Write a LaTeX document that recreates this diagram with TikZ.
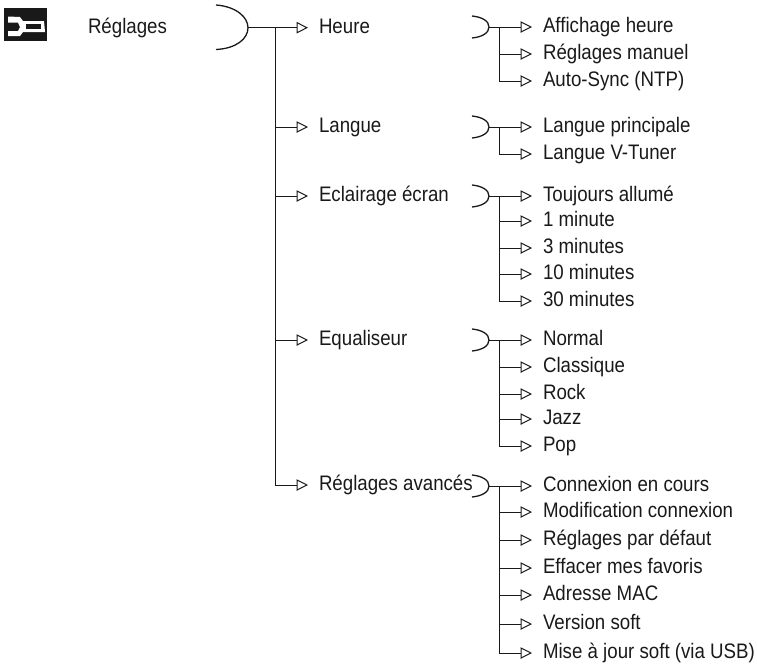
\documentclass[tikz,border=0pt]{standalone}
\usepackage{fontspec}
\setmainfont[FakeStretch=0.89]{Liberation Sans}
\usetikzlibrary{arrows.meta, positioning}
\definecolor{mydark}{RGB}{25,25,25}
\tikzset{
  entry/.style={anchor=west, inner ysep=0pt, inner xsep=11pt, outer sep=0pt, text height=15pt, text depth=4pt,
    font=\fontsize{21}{24}\selectfont, text=mydark},
  arrow/.style={-{Triangle[open, length=11.5pt, width=11.5pt]}, line width=1pt, color=mydark},
  bowl/.style={line width=1.3pt, color=mydark}
}
\begin{document}
\begin{tikzpicture}[x=1pt, y=-1pt]
  \useasboundingbox (0,0) rectangle (757,665);

  % Icon
  \fill[mydark] (4,8) rectangle (47,41);
  \fill[white] (8,16.5) -- (20,17) -- (23,21) -- (44,21) -- (45,32) -- (23,32) -- (20,36) -- (8,36) -- (8,31)
    -- (18,31) -- (20,27) -- (18,22.5) -- (8,22.5) -- cycle;
  \fill[mydark] (26,24) -- (41,24) -- (41,29) -- (26,29) -- cycle;

  % Title
  \node[entry, inner xsep=0pt] (reglages) at (88,27.5) {Réglages};

  % First level
  \node[entry] (heure) at (308,27.7) {Heure};
  \node[entry] (langue) at (308,127) {Langue};
  \node[entry] (eclairage) at (308,196) {Eclairage écran};
  \node[entry] (equaliseur) at (308,340) {Equaliseur};
  \node[entry] (avances) at (308,485) {Réglages avancés};

  % Main bowl
  \coordinate (bowlmain) at (248,27.7);
  \coordinate (trunk) at (275,27.7);
  \draw[bowl] (216,5) .. controls (236,6.5) and (248,17) .. (bowlmain) .. controls (248,39) and (236,48.5) .. (216,49.5);
  \draw[arrow] (bowlmain) -- (heure.west);
  \foreach \n in {langue, eclairage, equaliseur, avances}
    \draw[arrow] (trunk) |- (\n.west);

  % Second level
  \foreach \group/\ybowl/\items in {
    h/27/{Affichage heure/27, Réglages manuel/54, Auto-Sync (NTP)/81},
    l/127/{Langue principale/127, Langue V-Tuner/154},
    e/196/{Toujours allumé/196, 1 minute/221, 3 minutes/248, 10 minutes/274, 30 minutes/301},
    q/340/{Normal/340, Classique/367, Rock/394, Jazz/419, Pop/446},
    a/486/{Connexion en cours/486, Modification connexion/512, Réglages par défaut/540, Effacer mes favoris/568, Adresse MAC/595, Version soft/624, Mise à jour soft (via USB)/653}} {
    \coordinate (bowl\group) at (489,\ybowl);
    \coordinate (trunk\group) at (499.5,\ybowl);
    \draw[bowl] (472,\ybowl-11) .. controls (482,\ybowl-10) and (489,\ybowl-6) .. (bowl\group)
      .. controls (489,\ybowl+6) and (482,\ybowl+10) .. (472,\ybowl+11);
    \foreach \txt/\ypos [count=\i] in \items {
      \node[entry] (\group\i) at (532,\ypos) {\txt};
      \ifnum\i=1
        \draw[arrow] (bowl\group) -- (\group\i.west);
      \else
        \draw[arrow] (trunk\group) |- (\group\i.west);
      \fi
    }
  }
\end{tikzpicture}
\end{document}
